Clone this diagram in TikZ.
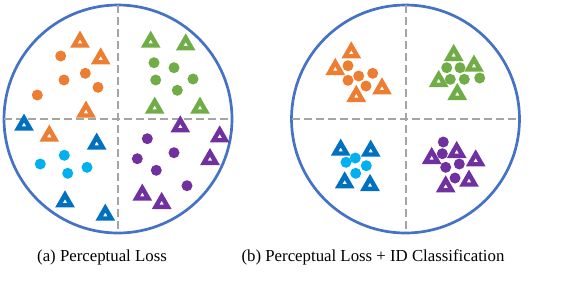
\documentclass[tikz,border=0pt]{standalone}
\usepackage{fontspec}
\setmainfont{Liberation Serif}
\usetikzlibrary{shapes.geometric}
\definecolor{ringblue}{HTML}{4472C4}
\definecolor{orng}{HTML}{ED7D31}
\definecolor{grn}{HTML}{70AD47}
\definecolor{blu}{HTML}{0070C0}
\definecolor{cyn}{HTML}{00B0F0}
\definecolor{purp}{HTML}{7030A0}
\definecolor{dashgray}{HTML}{A5A5A5}
\tikzstyle{ring} = [circle, draw=ringblue, line width=1.35pt, minimum size=114pt,
  inner sep=0pt, outer sep=0pt]
\tikzstyle{quadline} = [dashgray, line width=1pt, dash pattern=on 4pt off 2pt]
\tikzstyle{tri} = [regular polygon, regular polygon sides=3, minimum size=7pt,
  inner sep=0pt, outer sep=0pt, line width=2.2pt, line join=miter, fill=white]
\tikzstyle{dot} = [circle, minimum size=5.5pt, inner sep=0pt]
\tikzstyle{caption} = [font=\fontsize{8.4}{10}\selectfont]

\begin{document}
\begin{tikzpicture}[x=0.5pt, y=-0.5pt]
    \useasboundingbox (0,0) rectangle (568,281);
    \node[ring] (ringa) at (118,119) {};
    \node[ring] (ringb) at (405.5,119) {};
    \draw[quadline] (ringa.north) -- (ringa.south);
    \draw[quadline] (ringa.west) -- (ringa.east);
    \draw[quadline] (ringb.north) -- (ringb.south);
    \draw[quadline] (ringb.west) -- (ringb.east);

    % (a) scattered features
    \foreach \x/\y [count=\i] in {60.7/56, 64/80, 85.3/73.3, 98/87.3, 37.3/95}
        \node[dot, fill=orng] (a-od\i) at (\x,\y) {};
    \foreach \x/\y [count=\i] in {154/62.7, 174/67.7, 155.7/80, 193/79, 177.3/90.3}
        \node[dot, fill=grn] (a-gd\i) at (\x,\y) {};
    \foreach \x/\y [count=\i] in {64.3/155.3, 40.3/164, 67.7/173.3, 87/167.3}
        \node[dot, fill=cyn] (a-cd\i) at (\x,\y) {};
    \foreach \x/\y [count=\i] in {147.3/138.7, 137.3/158.7, 174/152.7, 156.3/170.3, 187/185.7}
        \node[dot, fill=purp] (a-pd\i) at (\x,\y) {};
    \foreach \x/\y [count=\i] in {80/42, 100.7/58.7, 86/112, 49.3/136}
        \node[tri, draw=orng] (a-ot\i) at (\x,\y) {};
    \foreach \x/\y [count=\i] in {150.7/42, 185.7/44.7, 154.7/108, 200/108}
        \node[tri, draw=grn] (a-gt\i) at (\x,\y) {};
    \foreach \x/\y [count=\i] in {24/125, 96.7/144, 65/201.7, 105.3/215}
        \node[tri, draw=blu] (a-bt\i) at (\x,\y) {};
    \foreach \x/\y [count=\i] in {180.3/126.7, 219.7/136.7, 210/159.3, 142.3/195, 161.7/203.3}
        \node[tri, draw=purp] (a-pt\i) at (\x,\y) {};

    % (b) clustered features
    \foreach \x/\y [count=\i] in {348/65.7, 358.7/76, 372.7/73.3, 348/80.3, 366/86}
        \node[dot, fill=orng] (b-od\i) at (\x,\y) {};
    \foreach \x/\y [count=\i] in {446.7/67.7, 460/67.7, 450.3/79.3, 464.3/79.3, 479.7/78}
        \node[dot, fill=grn] (b-gd\i) at (\x,\y) {};
    \foreach \x/\y [count=\i] in {355.3/158, 346/162.3, 366.3/165.7, 355.7/173.3}
        \node[dot, fill=cyn] (b-cd\i) at (\x,\y) {};
    \foreach \x/\y [count=\i] in {443.3/142, 442.3/153.7, 445.7/167.3, 459.3/164, 455/178}
        \node[dot, fill=purp] (b-pd\i) at (\x,\y) {};
    \foreach \x/\y [count=\i] in {351.3/52.7, 335.3/69.3, 382/88.7, 356.3/96.3}
        \node[tri, draw=orng] (b-ot\i) at (\x,\y) {};
    \foreach \x/\y [count=\i] in {453.7/55.3, 474/66, 438.7/81.3, 457.3/94.3}
        \node[tri, draw=grn] (b-gt\i) at (\x,\y) {};
    \foreach \x/\y [count=\i] in {340.7/150, 370.7/151, 344.7/182.7, 370/185.3}
        \node[tri, draw=blu] (b-bt\i) at (\x,\y) {};
    \foreach \x/\y [count=\i] in {431.7/158.3, 456.7/152.3, 475.7/160.7, 469/181, 445.7/186.7}
        \node[tri, draw=purp] (b-pt\i) at (\x,\y) {};

    \node[caption] (capa) at (102,257) {(a) Perceptual Loss};
    \node[caption] (capb) at (373,257) {(b) Perceptual Loss + ID Classification};
\end{tikzpicture}
\end{document}
